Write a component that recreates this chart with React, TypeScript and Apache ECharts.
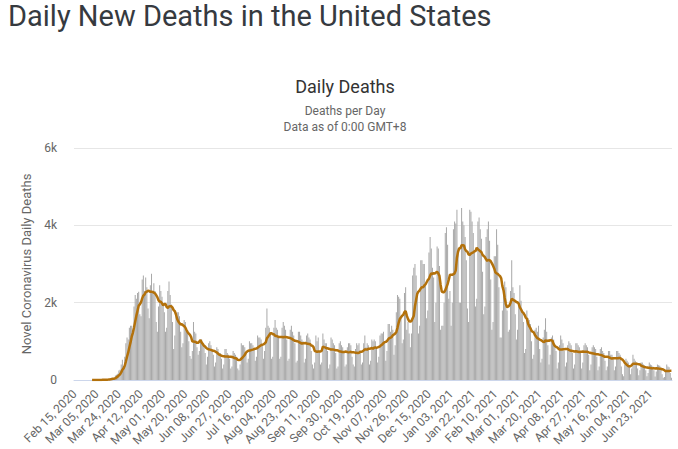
import React, { useEffect, useRef } from "react";
import * as echarts from "echarts";

// ---- data ----
const startYear = 2020;
const startMonth = 1; // February (0-based)
const startDay = 15;
const monthNames = ["Jan", "Feb", "Mar", "Apr", "May", "Jun", "Jul", "Aug", "Sep", "Oct", "Nov", "Dec"];

// daily new deaths, one row per week (Sat..Fri), starting Sat Feb 15, 2020
const dailyDeaths: number[] = [
  0, 0, 0, 0, 0, 0, 0,
  0, 0, 0, 0, 0, 0, 0,
  1, 0, 1, 4, 1, 3, 1,
  3, 4, 5, 8, 7, 10, 10,
  12, 18, 23, 40, 56, 49, 46,
  117, 139, 163, 247, 268, 402, 525,
  363, 600, 950, 1100, 1050, 1350, 1400,
  1400, 1300, 1900, 2200, 2100, 2250, 2280,
  1700, 1650, 2600, 2700, 2300, 2650, 2400,
  1850, 1600, 2450, 2750, 2250, 2500, 2300,
  1500, 1250, 1900, 2450, 2300, 2150, 1950,
  1750, 1250, 1350, 2300, 2550, 2200, 1950,
  1500, 800, 1150, 1700, 1750, 1750, 1650,
  1250, 850, 950, 1550, 1500, 1300, 1250,
  1000, 620, 550, 750, 1500, 1250, 1200,
  850, 650, 750, 1050, 1050, 950, 900,
  700, 400, 600, 950, 1000, 900, 800,
  650, 350, 450, 850, 800, 700, 700,
  550, 300, 400, 800, 800, 700, 650,
  550, 300, 350, 750, 700, 650, 600,
  300, 250, 400, 950, 900, 900, 850,
  700, 450, 550, 1000, 950, 950, 900,
  800, 500, 600, 1150, 1100, 1100, 1050,
  900, 550, 750, 1350, 1850, 1400, 1350,
  1200, 550, 600, 1350, 1550, 1350, 1300,
  1100, 550, 600, 1350, 1500, 1400, 1300,
  1050, 500, 550, 1300, 1400, 1250, 1150,
  950, 450, 500, 1250, 1250, 1150, 1050,
  1000, 450, 550, 1150, 1200, 1100, 1050,
  750, 400, 300, 450, 1150, 1000, 1100,
  750, 400, 450, 1200, 1050, 950, 950,
  750, 300, 400, 1100, 1050, 950, 900,
  700, 300, 350, 950, 1000, 900, 850,
  700, 350, 400, 850, 950, 950, 900,
  600, 400, 350, 800, 950, 900, 950,
  750, 400, 450, 950, 1150, 850, 950,
  900, 400, 500, 1050, 1000, 1050, 1000,
  850, 450, 600, 1150, 1200, 1200, 1250,
  1000, 500, 750, 1450, 1450, 1250, 1400,
  1300, 650, 900, 1750, 2200, 2150, 2100,
  1600, 950, 1050, 2250, 2400, 1300, 1500,
  1200, 850, 1200, 2700, 2900, 3000, 2700,
  2300, 1200, 1400, 3100, 3100, 3000, 3000,
  2500, 1600, 1800, 3300, 3700, 3400, 2900,
  2650, 1500, 2000, 3450, 3400, 2950, 1300,
  1400, 1400, 2000, 3800, 3950, 3500, 2100,
  2300, 1400, 2000, 3900, 4100, 4050, 4400,
  3400, 2000, 2000, 4450, 4100, 4000, 3700,
  3100, 1850, 1500, 4400, 4350, 4100, 3800,
  3300, 1900, 2100, 4100, 4200, 3900, 3650,
  2800, 1700, 1900, 3700, 3900, 4100, 3600,
  2600, 1300, 1500, 3200, 3200, 3900, 3500,
  2400, 1100, 1100, 1800, 2400, 2550, 2400,
  1800, 1250, 1300, 2300, 3100, 2400, 2250,
  1700, 1050, 1300, 2000, 2450, 2050, 1800,
  1500, 700, 800, 1800, 1600, 1550, 1450,
  1000, 550, 650, 1300, 1350, 1250, 1400,
  800, 450, 550, 1100, 1300, 1600, 1250,
  900, 400, 650, 1100, 1150, 1050, 900,
  750, 300, 450, 900, 1150, 1050, 950,
  750, 350, 450, 900, 1000, 950, 900,
  700, 300, 400, 950, 950, 900, 850,
  750, 300, 450, 900, 950, 900, 850,
  650, 250, 400, 850, 900, 850, 800,
  600, 250, 350, 800, 850, 750, 700,
  500, 250, 350, 750, 750, 650, 650,
  550, 250, 350, 750, 750, 700, 650,
  350, 150, 100, 400, 550, 500, 450,
  350, 150, 300, 650, 550, 500, 450,
  300, 120, 250, 450, 450, 400, 380,
  250, 100, 180, 450, 400, 380, 350,
  250, 90, 220, 400, 380, 370, 320,
  150, 60, 80, 250, 400, 350, 330,
  180, 60,
];

const yTicks = [0, 2000, 4000, 6000];
const maWindow = 7;
const maStartLabel = "Mar 01, 2020";

function buildDates(n: number): string[] {
  const out: string[] = [];
  for (let i = 0; i < n; i++) {
    const d = new Date(Date.UTC(startYear, startMonth, startDay + i));
    const dd = String(d.getUTCDate()).padStart(2, "0");
    out.push(`${monthNames[d.getUTCMonth()]} ${dd}, ${d.getUTCFullYear()}`);
  }
  return out;
}

const dates = buildDates(dailyDeaths.length);
const maStart = dates.indexOf(maStartLabel);
const movingAvg: (number | null)[] = dailyDeaths.map((_, i) => {
  if (i < maStart || i < maWindow - 1) return null;
  let s = 0;
  for (let k = i - maWindow + 1; k <= i; k++) s += dailyDeaths[k];
  return Math.round(s / maWindow);
});

export default function App() {
  const ref = useRef<HTMLDivElement>(null);
  useEffect(() => {
    if (!ref.current) return;
    const chart = echarts.init(ref.current, undefined, { renderer: "svg" });
    const font = "Roboto, 'Noto Sans', sans-serif";
    chart.setOption({
      animation: false,
      backgroundColor: "#ffffff",
      textStyle: { fontFamily: font },
      graphic: [
        {
          type: "text",
          x: 8,
          y: 16,
          style: {
            text: "Daily New Deaths in the United States",
            fontSize: 29,
            fontFamily: font,
            fill: "#363a3f",
            textAlign: "left",
            textVerticalAlign: "middle",
          },
        },
        {
          type: "text",
          x: 345,
          y: 86,
          style: {
            text: "Daily Deaths",
            fontSize: 18,
            fontFamily: font,
            fill: "#333333",
            textAlign: "center",
            textVerticalAlign: "middle",
          },
        },
        {
          type: "text",
          x: 345,
          y: 111,
          style: {
            text: "Deaths per Day",
            fontSize: 12,
            fontFamily: font,
            fill: "#666666",
            textAlign: "center",
            textVerticalAlign: "middle",
          },
        },
        {
          type: "text",
          x: 345,
          y: 127,
          style: {
            text: "Data as of 0:00 GMT+8",
            fontSize: 12,
            fontFamily: font,
            fill: "#666666",
            textAlign: "center",
            textVerticalAlign: "middle",
          },
        },
      ],
      grid: { left: 74, right: 6, top: 148, bottom: 69, containLabel: false },
      xAxis: {
        type: "category",
        data: dates,
        boundaryGap: true,
        axisLine: { show: true, lineStyle: { color: "#ccd6eb", width: 1 } },
        axisTick: { show: false },
        axisLabel: {
          interval: 18,
          rotate: 45,
          margin: 12,
          fontSize: 12,
          color: "#666666",
          fontFamily: font,
        },
        splitLine: { show: false },
      },
      yAxis: {
        type: "value",
        min: yTicks[0],
        max: yTicks[yTicks.length - 1],
        interval: yTicks[1] - yTicks[0],
        name: "Novel Coronavirus Daily Deaths",
        nameLocation: "middle",
        nameGap: 34,
        nameRotate: 90,
        nameTextStyle: { fontSize: 13, color: "#666666", fontFamily: font },
        axisLine: { show: false },
        axisTick: { show: false },
        axisLabel: {
          margin: 17,
          fontSize: 12,
          color: "#666666",
          fontFamily: font,
          formatter: (v: number) => (v === 0 ? "0" : `${v / 1000}k`),
        },
        splitLine: { show: true, lineStyle: { color: "#e6e6e6", width: 1 } },
      },
      series: [
        {
          name: "Daily Deaths",
          type: "bar",
          data: dailyDeaths,
          barCategoryGap: "15%",
          itemStyle: { color: "#a8a8a8" },
          silent: true,
        },
        {
          name: "7-day moving average",
          type: "line",
          data: movingAvg,
          showSymbol: false,
          symbol: "none",
          lineStyle: { color: "#b3710b", width: 2.5 },
          itemStyle: { color: "#b3710b" },
          z: 5,
          silent: true,
        },
      ],
    });
    return () => chart.dispose();
  }, []);
  return (
    <div
      ref={ref}
      style={{ position: "absolute", left: 0, top: 0, width: 678, height: 449, background: "#fff" }}
    />
  );
}
